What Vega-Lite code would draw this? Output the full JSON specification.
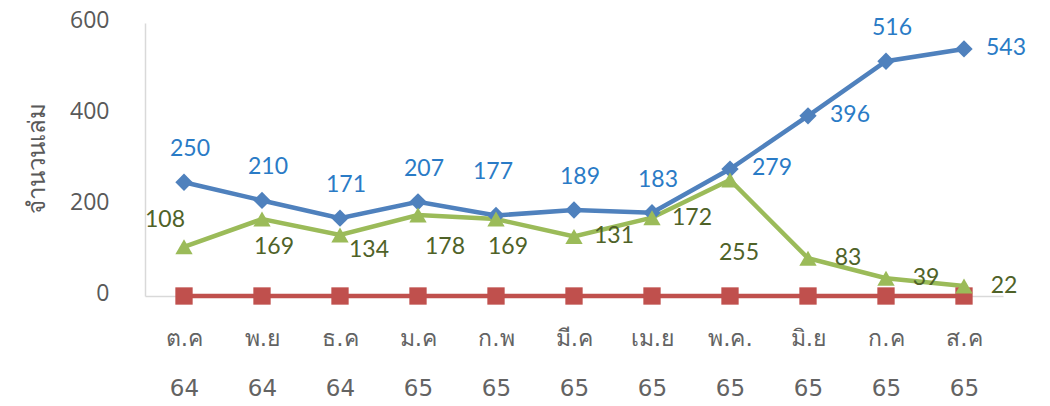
{
  "$schema": "https://vega.github.io/schema/vega-lite/v6.json",
  "width": 858,
  "height": 273,
  "autosize": {"type": "none"},
  "padding": {"left": 145, "top": 23, "right": 47, "bottom": 110},
  "config": {"view": {"stroke": null}, "font": "Noto Sans"},
  "data": {
    "values": [
      {"month": "ต.ค 64", "series": "series1", "value": 250},
      {"month": "พ.ย 64", "series": "series1", "value": 210},
      {"month": "ธ.ค 64", "series": "series1", "value": 171},
      {"month": "ม.ค 65", "series": "series1", "value": 207},
      {"month": "ก.พ 65", "series": "series1", "value": 177},
      {"month": "มี.ค 65", "series": "series1", "value": 189},
      {"month": "เม.ย 65", "series": "series1", "value": 183},
      {"month": "พ.ค. 65", "series": "series1", "value": 279},
      {"month": "มิ.ย 65", "series": "series1", "value": 396},
      {"month": "ก.ค 65", "series": "series1", "value": 516},
      {"month": "ส.ค 65", "series": "series1", "value": 543},
      {"month": "ต.ค 64", "series": "series2", "value": 0},
      {"month": "พ.ย 64", "series": "series2", "value": 0},
      {"month": "ธ.ค 64", "series": "series2", "value": 0},
      {"month": "ม.ค 65", "series": "series2", "value": 0},
      {"month": "ก.พ 65", "series": "series2", "value": 0},
      {"month": "มี.ค 65", "series": "series2", "value": 0},
      {"month": "เม.ย 65", "series": "series2", "value": 0},
      {"month": "พ.ค. 65", "series": "series2", "value": 0},
      {"month": "มิ.ย 65", "series": "series2", "value": 0},
      {"month": "ก.ค 65", "series": "series2", "value": 0},
      {"month": "ส.ค 65", "series": "series2", "value": 0},
      {"month": "ต.ค 64", "series": "series3", "value": 108},
      {"month": "พ.ย 64", "series": "series3", "value": 169},
      {"month": "ธ.ค 64", "series": "series3", "value": 134},
      {"month": "ม.ค 65", "series": "series3", "value": 178},
      {"month": "ก.พ 65", "series": "series3", "value": 169},
      {"month": "มี.ค 65", "series": "series3", "value": 131},
      {"month": "เม.ย 65", "series": "series3", "value": 172},
      {"month": "พ.ค. 65", "series": "series3", "value": 255},
      {"month": "มิ.ย 65", "series": "series3", "value": 83},
      {"month": "ก.ค 65", "series": "series3", "value": 39},
      {"month": "ส.ค 65", "series": "series3", "value": 22}
    ]
  },
  "encoding": {
    "x": {
      "field": "month",
      "type": "ordinal",
      "scale": {
        "type": "point",
        "padding": 0.5,
        "domain": ["ต.ค 64", "พ.ย 64", "ธ.ค 64", "ม.ค 65", "ก.พ 65", "มี.ค 65", "เม.ย 65", "พ.ค. 65", "มิ.ย 65", "ก.ค 65", "ส.ค 65"]
      },
      "axis": {
        "title": null,
        "ticks": false,
        "domainColor": "#D9D9D9",
        "domainWidth": 1.5,
        "labelAngle": 0,
        "labelExpr": "split(datum.label, ' ')",
        "labelLineHeight": 50,
        "labelFont": "DejaVu Sans",
        "labelFontSize": 23,
        "labelColor": "#636363",
        "labelBaseline": "top",
        "labelPadding": 31
      }
    },
    "y": {
      "field": "value",
      "type": "quantitative",
      "scale": {"domain": [0, 600], "nice": false},
      "axis": {
        "values": [0, 200, 400, 600],
        "grid": false,
        "ticks": false,
        "domainColor": "#D9D9D9",
        "domainWidth": 1.5,
        "labelPadding": 36,
        "labelOffset": -3,
        "labelFont": "Open Sans",
        "labelFontSize": 23,
        "labelColor": "#595959",
        "title": "จำนวนเล่ม",
        "titleFont": "DejaVu Sans",
        "titleFontSize": 24,
        "titleFontWeight": "normal",
        "titleColor": "#595959",
        "titleAngle": -90,
        "titleX": -108,
        "titleY": 135,
        "titleAlign": "center",
        "titleBaseline": "middle"
      }
    },
    "color": {
      "field": "series",
      "type": "nominal",
      "scale": {"domain": ["series1", "series2", "series3"], "range": ["#4F81BD", "#C0504D", "#9BBB59"]},
      "legend": null
    }
  },
  "layer": [
    {"mark": {"type": "line", "strokeWidth": 4.5}, "encoding": {"detail": {"field": "series"}}},
    {
      "mark": {"type": "point", "filled": true, "opacity": 1, "size": 300},
      "encoding": {
        "shape": {
          "field": "series",
          "type": "nominal",
          "scale": {"domain": ["series1", "series2", "series3"], "range": ["diamond", "square", "triangle-up"]},
          "legend": null
        }
      }
    },
    {
      "transform": [{"filter": {"and": [{"field": "series", "equal": "series1"}, {"field": "month", "oneOf": ["ต.ค 64", "พ.ย 64", "ธ.ค 64", "ม.ค 65", "มี.ค 65", "เม.ย 65", "ก.ค 65"]}]}}],
      "mark": {"type": "text", "font": "Lato", "fontSize": 23, "dx": 6, "dy": -33, "align": "center", "baseline": "middle"},
      "encoding": {"text": {"field": "value"}, "color": {"value": "#2A7BC6"}}
    },
    {
      "transform": [{"filter": {"and": [{"field": "series", "equal": "series1"}, {"field": "month", "oneOf": ["ก.พ 65"]}]}}],
      "mark": {"type": "text", "font": "Lato", "fontSize": 23, "dx": -3, "dy": -43, "align": "center", "baseline": "middle"},
      "encoding": {"text": {"field": "value"}, "color": {"value": "#2A7BC6"}}
    },
    {
      "transform": [{"filter": {"and": [{"field": "series", "equal": "series1"}, {"field": "month", "oneOf": ["พ.ค. 65", "มิ.ย 65", "ส.ค 65"]}]}}],
      "mark": {"type": "text", "font": "Lato", "fontSize": 23, "dx": 42, "dy": -1, "align": "center", "baseline": "middle"},
      "encoding": {"text": {"field": "value"}, "color": {"value": "#2A7BC6"}}
    },
    {
      "transform": [{"filter": {"and": [{"field": "series", "equal": "series3"}, {"field": "month", "oneOf": ["ต.ค 64"]}]}}],
      "mark": {"type": "text", "font": "Lato", "fontSize": 23, "dx": -19, "dy": -27, "align": "center", "baseline": "middle"},
      "encoding": {"text": {"field": "value"}, "color": {"value": "#4F6228"}}
    },
    {
      "transform": [{"filter": {"and": [{"field": "series", "equal": "series3"}, {"field": "month", "oneOf": ["พ.ย 64", "ก.พ 65"]}]}}],
      "mark": {"type": "text", "font": "Lato", "fontSize": 23, "dx": 12, "dy": 28, "align": "center", "baseline": "middle"},
      "encoding": {"text": {"field": "value"}, "color": {"value": "#4F6228"}}
    },
    {
      "transform": [{"filter": {"and": [{"field": "series", "equal": "series3"}, {"field": "month", "oneOf": ["ม.ค 65"]}]}}],
      "mark": {"type": "text", "font": "Lato", "fontSize": 23, "dx": 27, "dy": 32, "align": "center", "baseline": "middle"},
      "encoding": {"text": {"field": "value"}, "color": {"value": "#4F6228"}}
    },
    {
      "transform": [{"filter": {"and": [{"field": "series", "equal": "series3"}, {"field": "month", "oneOf": ["ธ.ค 64"]}]}}],
      "mark": {"type": "text", "font": "Lato", "fontSize": 23, "dx": 29, "dy": 15, "align": "center", "baseline": "middle"},
      "encoding": {"text": {"field": "value"}, "color": {"value": "#4F6228"}}
    },
    {
      "transform": [{"filter": {"and": [{"field": "series", "equal": "series3"}, {"field": "month", "oneOf": ["มี.ค 65", "เม.ย 65", "มิ.ย 65", "ก.ค 65", "ส.ค 65"]}]}}],
      "mark": {"type": "text", "font": "Lato", "fontSize": 23, "dx": 40, "dy": 0, "align": "center", "baseline": "middle"},
      "encoding": {"text": {"field": "value"}, "color": {"value": "#4F6228"}}
    },
    {
      "transform": [{"filter": {"and": [{"field": "series", "equal": "series3"}, {"field": "month", "oneOf": ["พ.ค. 65"]}]}}],
      "mark": {"type": "text", "font": "Lato", "fontSize": 23, "dx": 9, "dy": 73, "align": "center", "baseline": "middle"},
      "encoding": {"text": {"field": "value"}, "color": {"value": "#4F6228"}}
    }
  ]
}
